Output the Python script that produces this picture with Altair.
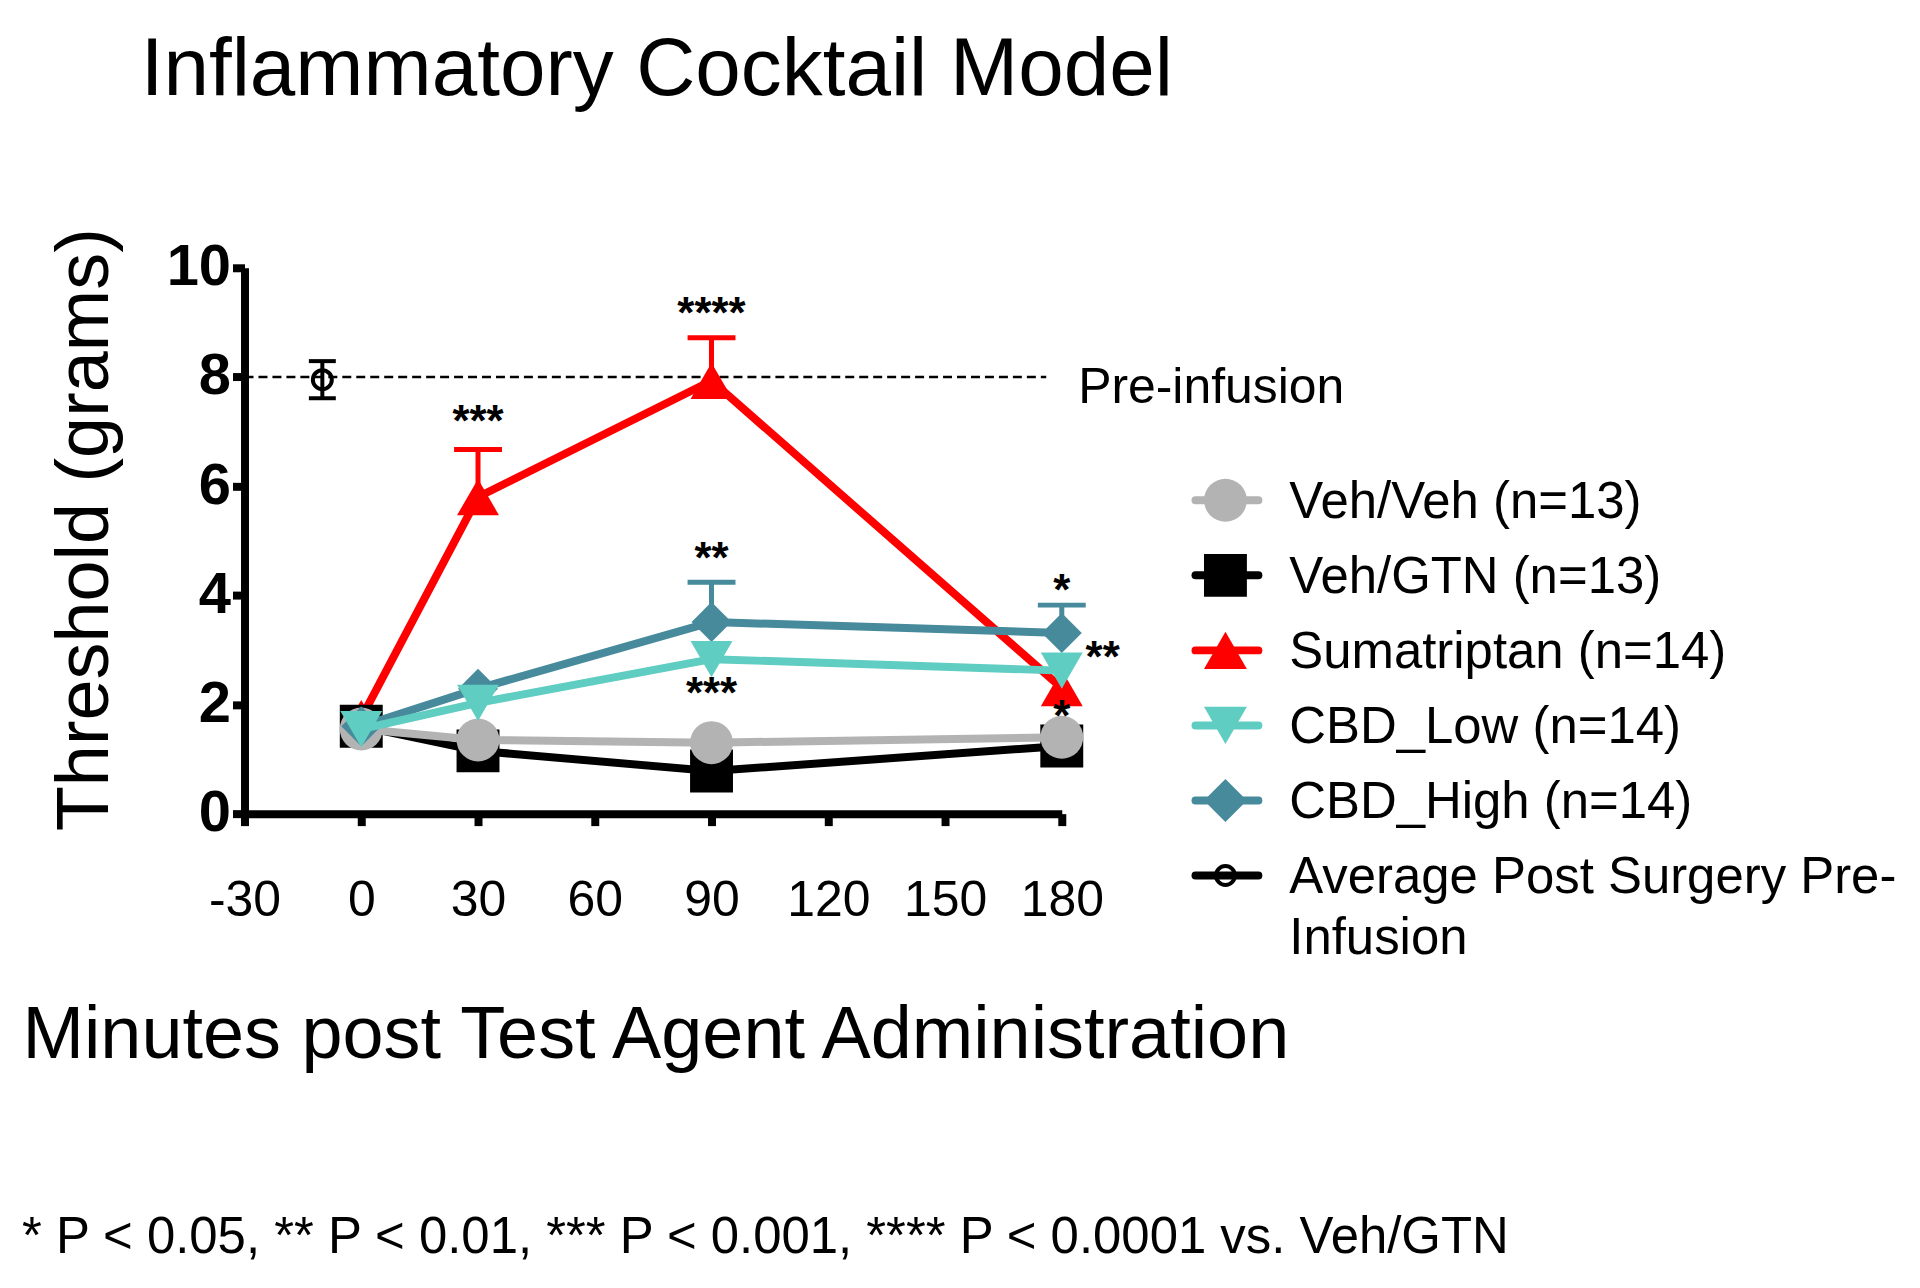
import altair as alt
import pandas as pd

FONT = "Liberation Sans"

# ---------------- data ----------------
times = [0, 30, 90, 180]
series_names = ["Veh/Veh (n=13)", "Veh/GTN (n=13)", "Sumatriptan (n=14)",
                "CBD_Low (n=14)", "CBD_High (n=14)"]
veh_veh = [1.55, 1.35, 1.30, 1.40]
veh_gtn = [1.60, 1.15, 0.78, 1.24]
sumatriptan = [1.75, 5.80, 7.93, 2.30]
cbd_low = [1.55, 2.03, 2.83, 2.62]
cbd_high = [1.60, 2.29, 3.51, 3.31]
# upper SEM bars that show above the symbols (0 = hidden behind symbol)
veh_veh_sem = [0, 0, 0, 0]
veh_gtn_sem = [0, 0, 0, 0]
sumatriptan_sem = [0, 0.87, 0.79, 0]
cbd_low_sem = [0, 0, 0, 0]
cbd_high_sem = [0, 0, 0.73, 0.51]

pre_name = "Average Post Surgery Pre-\nInfusion"
pre_time = [-10]
pre_mean = [7.95]
pre_sem = [0.34]

preinf_level = [8]
preinf_start = [-30]
preinf_end = [176]
preinf_text = ["Pre-infusion"]

star_time = [30, 90, 90, 90, 180, 190.5, 180]
star_value = [6.92, 8.90, 4.40, 1.94, 3.82, 2.60, 1.52]
star_text = ["***", "****", "**", "***", "*", "**", "*"]

x_ticks = [-30, 0, 30, 60, 90, 120, 150, 180]
y_ticks = [0, 2, 4, 6, 8, 10]

title_text = "Inflammatory Cocktail Model"
x_title = "Minutes post Test Agent Administration"
y_title = "Threshold (grams)"
footnote = "* P < 0.05, ** P < 0.01, *** P < 0.001, **** P < 0.0001 vs. Veh/GTN"

# ---------------- styles ----------------
colors = {"Veh/Veh (n=13)": "#b3b3b3", "Veh/GTN (n=13)": "#000000",
          "Sumatriptan (n=14)": "#ff0000", "CBD_Low (n=14)": "#5fcdc1",
          "CBD_High (n=14)": "#468a9c", pre_name: "#000000"}
shapes = {"Veh/Veh (n=13)": "circle", "Veh/GTN (n=13)": "square",
          "Sumatriptan (n=14)": "triangle-up", "CBD_Low (n=14)": "triangle-down",
          "CBD_High (n=14)": "diamond", pre_name: "circle"}
sizes = {"Veh/Veh (n=13)": 1849, "Veh/GTN (n=13)": 1849,
         "Sumatriptan (n=14)": 1764, "CBD_Low (n=14)": 1764,
         "CBD_High (n=14)": 1600, pre_name: 361}

means = {series_names[0]: veh_veh, series_names[1]: veh_gtn,
         series_names[2]: sumatriptan, series_names[3]: cbd_low,
         series_names[4]: cbd_high}
sems = {series_names[0]: veh_veh_sem, series_names[1]: veh_gtn_sem,
        series_names[2]: sumatriptan_sem, series_names[3]: cbd_low_sem,
        series_names[4]: cbd_high_sem}

rows = []
for s in series_names:
    for t, m, e in zip(times, means[s], sems[s]):
        rows.append({"series": s, "time": t, "mean": m, "sem": e})
df = pd.DataFrame(rows)

x_axis = alt.Axis(values=x_ticks, title=x_title, grid=False,
                  titleFont=FONT, titleFontSize=74, titleFontWeight="normal",
                  titleColor="black", titleX=-223, titleY=244,
                  titleAlign="left", titleBaseline="alphabetic",
                  labelFont=FONT, labelFontSize=50, labelColor="black",
                  labelExpr="'' + datum.value",
                  labelPadding=50, labelFlush=False, labelOverlap=False,
                  tickSize=12, tickWidth=8, tickColor="black",
                  domainWidth=8, domainColor="black")
y_axis = alt.Axis(values=y_ticks, title=y_title, grid=False,
                  titleFont=FONT, titleFontSize=74, titleFontWeight="normal",
                  titleColor="black", titleX=-137, titleY=262, titleAngle=270,
                  titleAlign="center", titleBaseline="alphabetic",
                  labelFont=FONT, labelFontSize=58, labelFontWeight="bold",
                  labelColor="black", labelPadding=2, labelFlush=False,
                  labelOverlap=False,
                  tickSize=12, tickWidth=8, tickColor="black",
                  domainWidth=8, domainColor="black")
x_scale = alt.Scale(domain=[-30, 180], nice=False, zero=False)
y_scale = alt.Scale(domain=[0, 10], nice=False, zero=False)


def X(field):
    return alt.X(field, scale=x_scale, axis=x_axis)


def Y(field):
    return alt.Y(field, scale=y_scale, axis=y_axis)


layers = []

# dashed pre-infusion line + label
pre_df = pd.DataFrame({"x0": preinf_start, "x1": preinf_end,
                       "y": preinf_level, "label": preinf_text})
layers.append(alt.Chart(pre_df).mark_rule(color="black", strokeWidth=2.5,
                                           strokeDash=[9, 5]).encode(
    x=X("x0:Q"), x2="x1:Q", y=Y("y:Q")))
layers.append(alt.Chart(pre_df).mark_text(font=FONT, fontSize=50, color="black",
                                           align="left", baseline="alphabetic",
                                           dx=32, dy=26).encode(
    x=X("x1:Q"), y=Y("y:Q"), text="label:N"))

# average post-surgery pre-infusion point
avg_df = pd.DataFrame({"time": pre_time, "mean": pre_mean, "sem": pre_sem})
avg = alt.Chart(avg_df).transform_calculate(lo="datum.mean - datum.sem",
                                            hi="datum.mean + datum.sem")
layers.append(avg.mark_rule(color="black", strokeWidth=4).encode(
    x=X("time:Q"), y=Y("lo:Q"), y2="hi:Q"))
layers.append(avg.mark_tick(orient="horizontal", size=27, thickness=4,
                            color="black", opacity=1).encode(x=X("time:Q"), y=Y("lo:Q")))
layers.append(avg.mark_tick(orient="horizontal", size=27, thickness=4,
                            color="black", opacity=1).encode(x=X("time:Q"), y=Y("hi:Q")))
layers.append(avg.mark_point(shape="circle", size=361, filled=False, strokeWidth=4,
                             color="black", opacity=1).encode(x=X("time:Q"), y=Y("mean:Q")))

# datasets, drawn in the stacking order seen in the figure
draw_order = ["Sumatriptan (n=14)", "Veh/GTN (n=13)", "Veh/Veh (n=13)",
              "CBD_High (n=14)", "CBD_Low (n=14)"]
for s in draw_order:
    c = colors[s]
    sub = alt.Chart(df).transform_filter(alt.datum.series == s)
    layers.append(sub.mark_line(color=c, strokeWidth=8, strokeJoin="round").encode(
        x=X("time:Q"), y=Y("mean:Q")))
    err = sub.transform_filter("datum.sem > 0").transform_calculate(
        top="datum.mean + datum.sem")
    layers.append(err.mark_rule(color=c, strokeWidth=5).encode(
        x=X("time:Q"), y=Y("mean:Q"), y2="top:Q"))
    layers.append(err.mark_tick(orient="horizontal", size=48, thickness=5,
                                color=c, opacity=1).encode(x=X("time:Q"), y=Y("top:Q")))
    layers.append(sub.mark_point(shape=shapes[s], size=sizes[s], filled=True,
                                 color=c, opacity=1).encode(x=X("time:Q"), y=Y("mean:Q")))

# significance stars
star_df = pd.DataFrame({"time": star_time, "value": star_value, "text": star_text})
layers.append(alt.Chart(star_df).mark_text(font=FONT, fontSize=44, fontWeight="bold",
                                            color="black", align="center",
                                            baseline="alphabetic").encode(
    x=X("time:Q"), y=Y("value:Q"), text="text:N"))

main = alt.layer(*layers)

# ---------------- legend ----------------
legend_labels = series_names + [pre_name]
leg_df = pd.DataFrame({"label": legend_labels, "row": list(range(len(legend_labels)))})
leg_y = alt.Y("row:Q", scale=alt.Scale(domain=[0, 5], range=[233, 609],
                                       nice=False, zero=False), axis=None)
col_scale = alt.Scale(domain=legend_labels, range=[colors[l] for l in legend_labels])
shp_scale = alt.Scale(domain=legend_labels, range=[shapes[l] for l in legend_labels])
siz_scale = alt.Scale(domain=legend_labels, range=[sizes[l] for l in legend_labels])
leg = alt.Chart(leg_df)
leg_stub = leg.mark_rule(strokeWidth=8, strokeCap="round").encode(
    x=alt.value(953), x2=alt.value(1016), y=leg_y,
    color=alt.Color("label:N", scale=col_scale, legend=None))
leg_sym = leg.transform_filter(alt.datum.label != pre_name).mark_point(
    filled=True, opacity=1).encode(
    x=alt.value(983), y=leg_y,
    color=alt.Color("label:N", scale=col_scale, legend=None),
    shape=alt.Shape("label:N", scale=shp_scale, legend=None),
    size=alt.Size("label:N", scale=siz_scale, legend=None))
leg_open = leg.transform_filter(alt.datum.label == pre_name).mark_point(
    filled=False, opacity=1, strokeWidth=4, size=361, shape="circle",
    color="black").encode(x=alt.value(983), y=leg_y)
leg_text = leg.mark_text(font=FONT, fontSize=51, color="black", align="left",
                         baseline="alphabetic", dy=18, lineBreak="\n",
                         lineHeight=61).encode(
    x=alt.value(1047), y=leg_y, text="label:N")
legend = alt.layer(leg_stub, leg_sym, leg_open, leg_text)

foot = alt.Chart(pd.DataFrame({"t": [footnote]})).mark_text(
    font=FONT, fontSize=51, color="black", align="left", baseline="alphabetic").encode(
    x=alt.value(-223), y=alt.value(987), text="t:N")

chart = alt.layer(main, legend, foot).resolve_scale(y="independent").properties(
    width=819, height=547,
    title=alt.TitleParams(title_text, anchor="start", frame="group", dx=-104,
                          dy=-116, font=FONT, fontSize=82, fontWeight="normal",
                          color="black", offset=0),
    autosize="none",
    padding={"left": 237, "top": 259, "right": 852, "bottom": 460},
    background="white",
).configure_view(strokeWidth=0)

chart.save("out.html", embed_options={"renderer": "svg", "actions": False})
